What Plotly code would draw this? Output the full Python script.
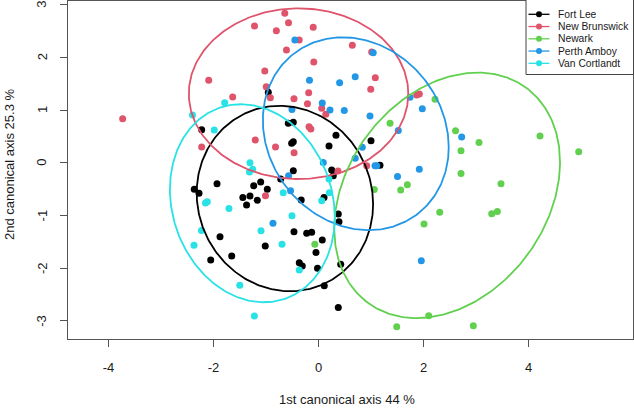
import numpy as np
import plotly.graph_objects as go

groups = ["Fort Lee", "New Brunswick", "Newark", "Perth Amboy", "Van Cortlandt"]
colors = ["#000000", "#DF536B", "#61D04F", "#2297E6", "#28E2E5"]

fortlee_x = [-0.956, -2.225, -1.370, -0.575, -0.480, -0.511, -0.480, -0.480, -0.720, -1.933,
             -2.366, -2.276, -1.234, -1.101, -0.975, -1.441, -1.305, -1.166, -0.329, 0.333,
             0.200, 1.000, 1.171, 0.251, 0.282, 0.105, 0.377, 0.390, -1.876, -1.014,
             -0.467, -0.225, -0.130, -2.053, -1.653, -0.048, -0.366, -0.309, -0.019, 0.072,
             0.423, 0.110, 0.377]
fortlee_y = [1.337, 0.626, -0.805, 0.748, 0.767, 0.368, 0.399, -0.152, -0.309, -0.398,
             -0.504, -0.580, -0.437, -0.366, -0.504, -0.661, -0.632, -0.714, -0.708, 0.522,
             0.317, 0.416, -0.047, -0.138, -0.248, -0.661, -0.974, -1.120, -1.405, -1.581,
             -1.309, -1.339, -1.321, -1.847, -1.771, -1.703, -1.898, -1.961, -2.005, -1.467,
             -1.929, -2.335, -2.749]

newbrunswick_x = [-0.642, -0.571, -1.219, -0.803, -0.101, -0.368, -0.610, -0.090, -1.023, -2.091,
                  -0.995, -0.917, -1.634, -0.467, -0.187, -0.210, -3.730, -0.181, -0.146, -1.204,
                  -0.819, -0.465, -2.225, -1.010, 0.644, 1.013, 1.082, 0.995, 1.870, 1.920,
                  0.061, 0.139, 0.918, 0.371]
newbrunswick_y = [2.837, 2.658, 2.595, 2.506, 2.573, 2.330, 2.140, 1.912, 1.741, 1.564,
                  1.443, 1.234, 1.247, 1.215, 1.329, 1.120, 0.836, 0.684, 0.641, 0.431,
                  0.298, 0.190, 0.298, -0.628, 2.229, 2.102, 1.614, 1.393, 1.285, 1.304,
                  1.032, 0.921, -0.058, -0.157]

newark_x = [2.219, 1.362, 2.610, 4.219, 3.057, 2.714, 4.956, 2.714, 3.476, 1.692,
            1.566, 1.063, 2.309, 2.010, 3.299, 3.406, -0.070, 2.099, 1.490, 2.949]
newark_y = [1.204, 0.748, 0.608, 0.507, 0.384, 0.228, 0.209, -0.205, -0.399, -0.420,
            -0.520, -0.507, -0.941, -1.164, -0.970, -0.926, -1.547, -2.905, -3.114, -3.095]

perthamboy_x = [-0.450, -0.172, -0.505, -0.570, -0.532, -0.867, 1.042, 0.699, 0.402, 0.072,
                0.219, 0.491, 0.981, 1.977, 1.743, 1.520, 2.727, 0.834, 0.091, 0.699,
                1.076, 1.109, 1.505, 1.920, 1.958]
perthamboy_y = [2.329, 1.564, 1.010, -0.249, -0.534, -1.151, 2.088, 1.633, 1.519, 1.133,
                1.000, 0.991, 0.886, 1.025, 1.241, 0.611, 0.488, 0.294, 0.004, 0.085,
                -0.057, -0.059, -0.262, -0.123, -1.861]

vancortlandt_x = [-2.400, -1.787, -1.985, -1.305, -1.253, -1.314, -0.672, -2.152, -2.118, -1.705,
                  -0.505, -1.095, -2.229, -0.695, -2.371, -0.366, -1.499, -1.221, 0.200, 0.206,
                  0.061]
vancortlandt_y = [0.907, 1.139, 0.621, 0.000, -0.123, -0.177, -0.570, -0.765, -0.742, -0.869,
                  -1.008, -1.293, -1.287, -1.547, -1.568, -2.037, -2.328, -2.911, -0.309, -0.570,
                  -0.723]

# ellipse summaries per group: centre, half-extent in x / y, correlation
ell_cx = [-0.64, -0.38, 2.45, 0.71, -1.26]
ell_cy = [-0.68, 1.31, -0.62, 0.55, -0.77]
ell_wx = [1.68, 2.09, 2.15, 1.77, 1.57]
ell_hy = [1.76, 1.62, 2.33, 1.83, 1.88]
ell_r = [-0.06, 0.0, 0.27, -0.14, -0.14]

x_ticks = [-4, -2, 0, 2, 4]
y_ticks = [-3, -2, -1, 0, 1, 2, 3]
x_title = "1st canonical axis 44 %"
y_title = "2nd canonical axis 25.3 %"

xs = [fortlee_x, newbrunswick_x, newark_x, perthamboy_x, vancortlandt_x]
ys = [fortlee_y, newbrunswick_y, newark_y, perthamboy_y, vancortlandt_y]

FONT = "Liberation Sans, Arial, sans-serif"
TXT = "#1a1a1a"
fig = go.Figure()
for g, c, x, y in zip(groups, colors, xs, ys):
    fig.add_trace(go.Scatter(x=x, y=y, mode="markers", name=g,
                             marker=dict(color=c, size=7, line=dict(width=0)),
                             showlegend=False, hoverinfo="skip"))

t = np.linspace(0, 2 * np.pi, 300)
for i, (g, c) in enumerate(zip(groups, colors)):
    phi = np.arccos(ell_r[i])
    ex = ell_cx[i] + ell_wx[i] * np.cos(t)
    ey = ell_cy[i] + ell_hy[i] * np.cos(t - phi)
    fig.add_trace(go.Scatter(x=ex, y=ey, mode="lines", line=dict(color=c, width=1.8),
                             showlegend=False, hoverinfo="skip"))

# plot area geometry (pixels)
L, R, T, B = 68, 633, 1, 339
W_, H_ = 634, 413
def px(x):
    return (x - L) / (R - L)
def py(y):
    return (B - y) / (B - T)

shapes = []
annotations = []
# custom legend (R style)
shapes.append(dict(type="rect", xref="paper", yref="paper", x0=px(526), x1=px(633.5),
                   y0=py(74.5), y1=py(-0.5), line=dict(color="#444", width=1),
                   fillcolor="white", layer="above"))
for k, (g, c) in enumerate(zip(groups, colors)):
    yy = 14.3 + k * 12.25
    shapes.append(dict(type="line", xref="paper", yref="paper", x0=px(528.5), x1=px(549.5),
                       y0=py(yy), y1=py(yy), line=dict(color=c, width=1.3), layer="above"))
    shapes.append(dict(type="circle", xref="paper", yref="paper", xsizemode="pixel",
                       ysizemode="pixel", xanchor=px(539), yanchor=py(yy),
                       x0=-3, x1=3, y0=-3, y1=3, fillcolor=c, line=dict(width=0),
                       layer="above"))
    annotations.append(dict(text=g, xref="paper", yref="paper", x=px(555.5), y=py(yy),
                            xanchor="left", yanchor="middle", showarrow=False,
                            font=dict(family=FONT, size=10.3, color=TXT)))

# y tick labels (R style: parallel to the axis)
for v in y_ticks:
    annotations.append(dict(text=str(v), xref="paper", yref="y", x=px(42), y=v,
                            xanchor="center", yanchor="middle", showarrow=False,
                            textangle=-90, font=dict(family=FONT, size=13, color=TXT)))

annotations.append(dict(text=x_title, xref="paper", yref="paper", x=px(347), y=py(399),
                        xanchor="center", yanchor="middle", showarrow=False,
                        font=dict(family=FONT, size=13, color=TXT)))
annotations.append(dict(text=y_title, xref="paper", yref="paper", x=px(9), y=py(165),
                        xanchor="center", yanchor="middle", showarrow=False, textangle=-90,
                        font=dict(family=FONT, size=13, color=TXT)))

fig.update_layout(
    width=W_, height=H_,
    margin=dict(l=L, r=W_ - R, t=T, b=H_ - B, pad=0),
    plot_bgcolor="white", paper_bgcolor="white",
    showlegend=False,
    shapes=shapes, annotations=annotations,
    font=dict(family=FONT, size=13, color=TXT),
    xaxis=dict(range=[-4.771, 5.990], tickvals=x_ticks, ticktext=[str(v) for v in x_ticks],
               showgrid=False, zeroline=False, showline=True, mirror=True,
               linecolor="#555", linewidth=1, ticks="outside", ticklen=7,
               tickcolor="#555", tickwidth=1, ticklabelstandoff=9,
               tickfont=dict(family=FONT, size=13, color=TXT)),
    yaxis=dict(range=[-3.347, 3.070], tickvals=y_ticks, showticklabels=False,
               showgrid=False, zeroline=False, showline=True, mirror=True,
               linecolor="#555", linewidth=1, ticks="outside", ticklen=7,
               tickcolor="#555", tickwidth=1),
)
fig.write_html("out.html")
